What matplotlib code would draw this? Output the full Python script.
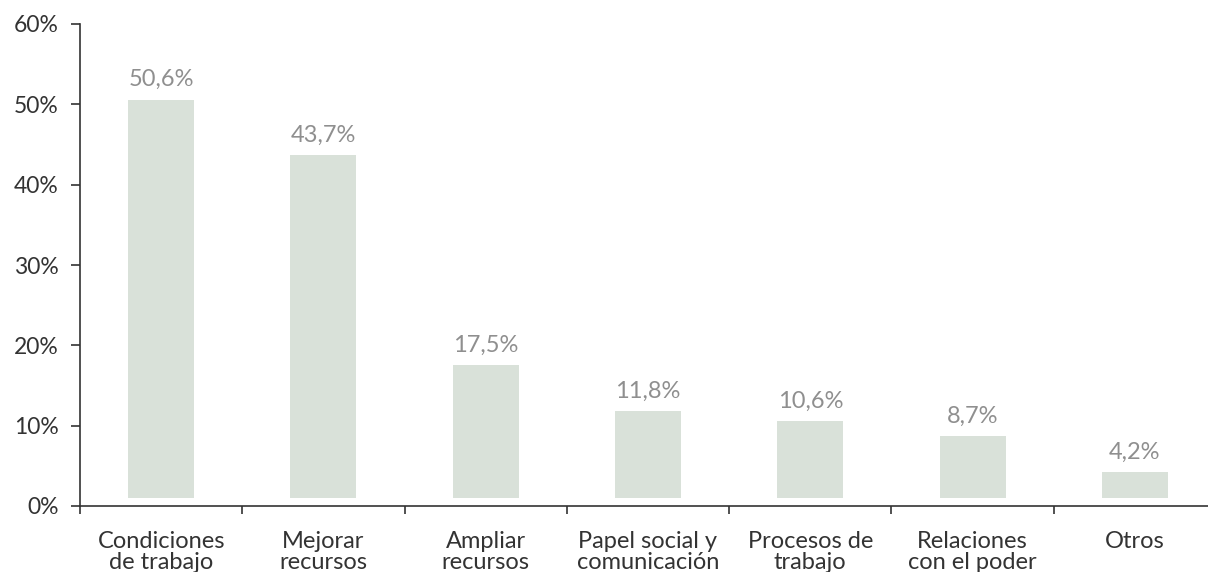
import matplotlib
matplotlib.use("Agg")
import matplotlib.pyplot as plt
import numpy as np

categories = ["Condiciones\nde trabajo", "Mejorar\nrecursos", "Ampliar\nrecursos",
              "Papel social y\ncomunicación", "Procesos de\ntrabajo",
              "Relaciones\ncon el poder", "Otros"]
values = [50.6, 43.7, 17.5, 11.8, 10.6, 8.7, 4.2]
value_labels = ["50,6%", "43,7%", "17,5%", "11,8%", "10,6%", "8,7%", "4,2%"]
y_ticks = [0, 10, 20, 30, 40, 50, 60]
y_ticklabels = ["0%", "10%", "20%", "30%", "40%", "50%", "60%"]
bar_base = 1.0

plt.rcParams['font.family'] = ['Lato', 'DejaVu Sans']

W, H = 1208, 572
fig = plt.figure(figsize=(W / 100, H / 100), dpi=100)
x0, x1 = 80, 1216
y0, y1 = 506, 24
ax = fig.add_axes([x0 / W, (H - y0) / H, (x1 - x0) / W, (y0 - y1) / H])

x = np.arange(len(categories))
heights = np.array(values) - bar_base
ax.bar(x, heights, bottom=bar_base, width=0.406, color="#d9e1d9", zorder=2)

for xi, v, lab in zip(x, values, value_labels):
    ax.annotate(lab, (xi, v), xytext=(0, 9.5), textcoords="offset points",
                ha="center", va="baseline", fontsize=17, color="#8f8f8f")

ax.set_xlim(-0.5, len(categories) - 0.5)
ax.set_ylim(0, 60)
ax.set_yticks(y_ticks)
ax.set_yticklabels(y_ticklabels)
ax.set_xticks(x)
ax.set_xticklabels(categories, linespacing=1.0)
ax.set_xticks(np.arange(len(categories)) - 0.5, minor=True)

for s in ["top", "right"]:
    ax.spines[s].set_visible(False)
for s in ["left", "bottom"]:
    ax.spines[s].set_color("#333333")
    ax.spines[s].set_linewidth(1.2)

ax.tick_params(axis="y", length=6.5, width=1.2, color="#333333", pad=9,
               labelsize=16.5, labelcolor="#333333")
ax.tick_params(axis="x", which="major", length=0, pad=18, labelsize=17,
               labelcolor="#333333")
ax.tick_params(axis="x", which="minor", length=6, width=1.2, color="#333333")

fig.savefig("out.png", dpi=100)
